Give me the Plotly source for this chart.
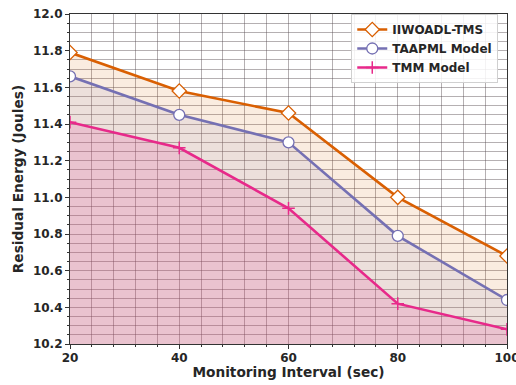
import plotly.graph_objects as go

intervals = [20, 40, 60, 80, 100]
iiwoadl_tms = [11.79, 11.58, 11.46, 11.00, 10.68]
taapml = [11.66, 11.45, 11.30, 10.79, 10.44]
tmm = [11.41, 11.27, 10.94, 10.42, 10.28]

series = [
    ("IIWOADL-TMS", iiwoadl_tms, "#d95f02", "rgba(217,95,2,0.12)", "diamond"),
    ("TAAPML Model", taapml, "#7570b3", "rgba(117,112,179,0.10)", "circle"),
    ("TMM Model", tmm, "#e7298a", "rgba(231,41,138,0.15)", "cross-thin"),
]

fig = go.Figure()
for name, vals, col, fcol, sym in series:
    fig.add_trace(go.Scatter(x=intervals, y=vals, mode="lines", fill="tozeroy",
                             fillcolor=fcol, line=dict(width=0), showlegend=False,
                             hoverinfo="skip"))
for name, vals, col, fcol, sym in series:
    if sym == "cross-thin":
        marker = dict(symbol=sym, size=9, color=col, line=dict(color=col, width=1.5))
    else:
        marker = dict(symbol=sym, size=11, color="white", line=dict(color=col, width=1.3))
    fig.add_trace(go.Scatter(x=intervals, y=vals, mode="lines+markers", name=name,
                             line=dict(color=col, width=2.6), marker=marker,
                             cliponaxis=True))

font_family = "DejaVu Sans"
grid_col = "rgba(90,80,85,0.45)"
fig.update_layout(
    width=516, height=385,
    margin=dict(l=70, r=9, t=14, b=41, autoexpand=False),
    paper_bgcolor="white", plot_bgcolor="white",
    font=dict(family=font_family, color="#262626"),
    legend=dict(x=0.98, y=1.0, xanchor="right", yanchor="top",
                bgcolor="rgba(255,255,255,0.85)", bordercolor="#d0d0d0", borderwidth=1,
                font=dict(size=12, family=font_family, weight="bold"),
                tracegroupgap=0, itemwidth=30),
)
fig.update_xaxes(
    range=[20, 100], dtick=20, tick0=20, automargin=False,
    showline=True, linecolor="#333", linewidth=1.2, mirror=True,
    ticks="outside", ticklen=4, tickcolor="#333", ticklabeloverflow="allow",
    ticklabelstandoff=-2,
    showgrid=True, gridcolor=grid_col, gridwidth=1,
    minor=dict(dtick=4, showgrid=True, gridcolor=grid_col, gridwidth=0.8,
               ticks="outside", ticklen=2, tickcolor="#333"),
    tickfont=dict(size=12, family=font_family, weight="bold"),
    title=dict(text="Monitoring Interval (sec)", font=dict(size=13.7, family=font_family, weight="bold"), standoff=2),
    zeroline=False,
)
fig.update_yaxes(
    range=[10.2, 12.0], dtick=0.2, tick0=10.2, tickformat=".1f", automargin=False,
    showline=True, linecolor="#333", linewidth=1.2, mirror=True,
    ticks="outside", ticklen=4, tickcolor="#333", ticklabeloverflow="allow",
    showgrid=True, gridcolor=grid_col, gridwidth=1,
    minor=dict(dtick=0.05, showgrid=True, gridcolor=grid_col, gridwidth=0.8,
               ticks="outside", ticklen=2, tickcolor="#333"),
    tickfont=dict(size=12, family=font_family, weight="bold"),
    title=dict(text="Residual Energy (Joules)", font=dict(size=13.7, family=font_family, weight="bold"), standoff=6),
    zeroline=False,
)
fig.write_html("out.html", config={"displayModeBar": False},
               post_script="document.body.style.margin='0';")
